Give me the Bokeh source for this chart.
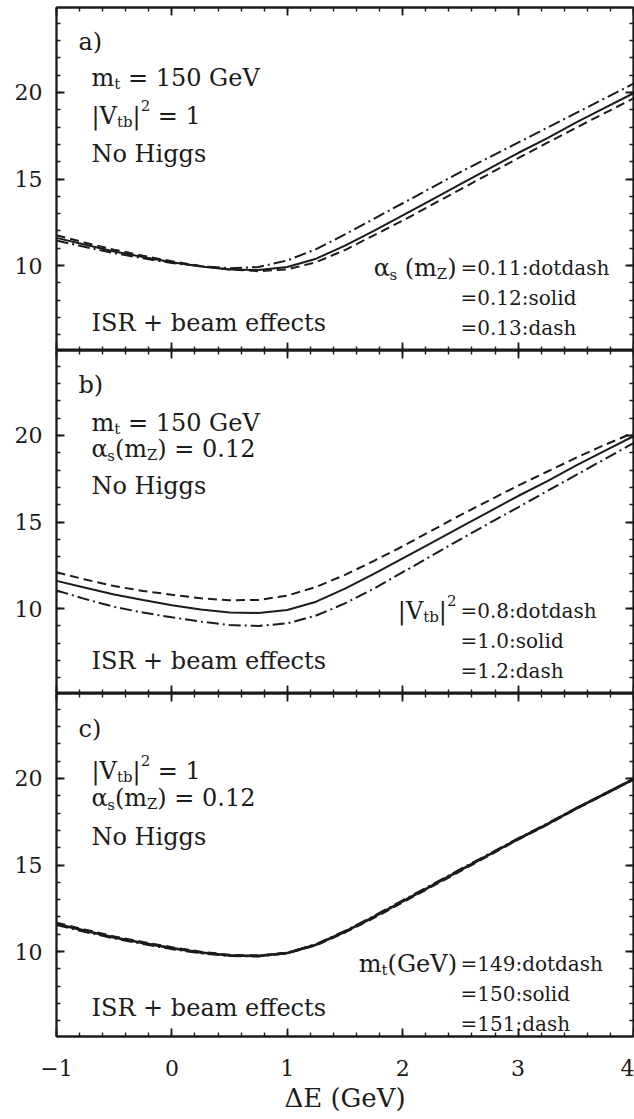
from bokeh.plotting import figure
from bokeh.models import (Range1d, LinearAxis, SingleIntervalTicker, Label,
                          CustomLabelingPolicy)
from bokeh.layouts import column
from bokeh.embed import file_html
from bokeh.resources import INLINE

# Energy offset from the nominal threshold, GeV
delta_e = [-1.0, -0.75, -0.5, -0.25, 0.0, 0.25, 0.5, 0.75, 1.0, 1.25, 1.5,
           1.75, 2.0, 2.25, 2.5, 2.75, 3.0, 3.25, 3.5, 3.75, 4.0]

# Reference setting: m_t = 150 GeV, |V_tb|^2 = 1, alpha_s(m_Z) = 0.12
central = [11.6, 11.2, 10.82, 10.5, 10.2, 9.95, 9.78, 9.75, 9.92, 10.4, 11.15,
           12.0, 12.9, 13.8, 14.7, 15.6, 16.5, 17.35, 18.25, 19.1, 19.95]

# a) alpha_s(m_Z) variations
alpha_011 = [11.45, 11.07, 10.72, 10.42, 10.15, 9.97, 9.85, 9.92, 10.3, 10.95, 11.8,
             12.7, 13.6, 14.5, 15.4, 16.25, 17.1, 17.95, 18.8, 19.65, 20.5]
alpha_013 = [11.75, 11.32, 10.92, 10.57, 10.25, 9.98, 9.78, 9.68, 9.78, 10.2, 10.9,
             11.75, 12.6, 13.5, 14.4, 15.3, 16.2, 17.08, 17.95, 18.8, 19.65]

# b) |V_tb|^2 variations
vtb_08 = [11.05, 10.55, 10.1, 9.77, 9.5, 9.25, 9.05, 9.0, 9.15, 9.6, 10.3,
          11.15, 12.1, 13.05, 14.0, 14.93, 15.85, 16.78, 17.7, 18.63, 19.55]
vtb_12 = [12.1, 11.68, 11.3, 11.02, 10.8, 10.6, 10.48, 10.5, 10.75, 11.25, 11.95,
          12.75, 13.6, 14.5, 15.4, 16.25, 17.1, 17.9, 18.7, 19.45, 20.15]

# c) top-mass variations
mt_149 = [11.55, 11.15, 10.78, 10.46, 10.16, 9.92, 9.76, 9.74, 9.92, 10.42, 11.18,
          12.04, 12.94, 13.84, 14.74, 15.63, 16.52, 17.37, 18.26, 19.1, 19.94]
mt_151 = [11.65, 11.25, 10.86, 10.54, 10.24, 9.98, 9.8, 9.76, 9.92, 10.38, 11.12,
          11.96, 12.86, 13.76, 14.66, 15.57, 16.48, 17.33, 18.24, 19.1, 19.96]

x_label_fix = {-1: "\u22121"}

FONT = "DejaVu Serif"
INK = "#1b1b1b"
X0, X1 = -1.0, 4.0
Y0, Y1 = 5.1, 24.9
FRAME_W = 577
FRAME_H = 343
PX_X = FRAME_W / (X1 - X0)
PX_Y = FRAME_H / (Y1 - Y0)

DOTDASH = "12 4 2 4"
DASH = "9 5"

# approximate advance widths (em) for DejaVu Serif
W = {' ': 0.318, '=': 0.838, '+': 0.838, '(': 0.390, ')': 0.390, '.': 0.318,
     ':': 0.337, '|': 0.337, 'a': 0.596, 'b': 0.640, 'c': 0.563, 'd': 0.640,
     'e': 0.592, 'f': 0.370, 'g': 0.640, 'h': 0.644, 'i': 0.320, 'l': 0.320,
     'm': 0.948, 'n': 0.644, 'o': 0.602, 's': 0.513, 't': 0.402, 'G': 0.778,
     'H': 0.872, 'I': 0.425, 'N': 0.872, 'R': 0.771, 'S': 0.687, 'V': 0.722,
     'Z': 0.685, 'E': 0.730, '\u03b1': 0.654}
for d in "0123456789":
    W[d] = 0.636


def text_width(s, size):
    return sum(W.get(ch, 0.6) for ch in s) * size


def rich(p, rx, ry, pieces, align="left"):
    """Place a run of text pieces (text, size, rise) starting at frame pixel (rx, ry)."""
    total = sum(text_width(t, s) for t, s, _ in pieces)
    x = X0 + rx / PX_X
    y = Y1 - ry / PX_Y
    off = -total if align == "right" else 0.0
    for t, s, rise in pieces:
        lead = len(t) - len(t.lstrip(" "))
        off += text_width(" " * lead, s)
        body = t.lstrip(" ")
        p.add_layout(Label(x=x, y=y, text=body, x_offset=off, y_offset=rise,
                           text_font=FONT, text_font_size=f"{s}px",
                           text_color=INK, text_align="left",
                           text_baseline="alphabetic"))
        off += text_width(body, s)


def axis(p, loc, dim, labels):
    tk = SingleIntervalTicker(interval=1 if dim == 0 else 5, num_minor_ticks=5)
    a = LinearAxis(ticker=tk, major_tick_in=8, major_tick_out=0,
                   minor_tick_in=4, minor_tick_out=0,
                   axis_line_color=INK, axis_line_width=1.8,
                   major_tick_line_color=INK, major_tick_line_width=1.8,
                   minor_tick_line_color=INK, minor_tick_line_width=1.4)
    if labels:
        a.major_label_text_font = FONT
        a.major_label_text_font_size = "22px"
        a.major_label_text_color = INK
        a.major_label_standoff = 14 if dim == 1 else 23
        if dim == 0:
            a.major_label_overrides = x_label_fix
    else:
        a.major_label_text_font_size = "0px"
        a.major_label_standoff = 0
        a.major_label_policy = CustomLabelingPolicy(code="return []")
    p.add_layout(a, loc)
    return a


def panel(height, top, bottom, xlabels):
    p = figure(width=634, height=height, x_range=Range1d(X0, X1),
               y_range=Range1d(Y0, Y1), output_backend="svg",
               toolbar_location=None, x_axis_location=None, y_axis_location=None,
               min_border_left=56, min_border_right=1,
               min_border_top=top, min_border_bottom=bottom)
    p.xgrid.visible = False
    p.ygrid.visible = False
    p.outline_line_color = INK
    p.outline_line_width = 1.8
    axis(p, "left", 1, True)
    axis(p, "right", 1, False)
    axis(p, "above", 0, False)
    ax = axis(p, "below", 0, xlabels)
    if xlabels:
        ax.axis_label = "\u0394E (GeV)"
        ax.axis_label_text_font = FONT
        ax.axis_label_text_font_size = "26px"
        ax.axis_label_text_font_style = "normal"
        ax.axis_label_text_color = INK
        ax.axis_label_standoff = 4
    return p


def curves(p, dotdash, solid, dash, width=2.0):
    p.line(delta_e, dotdash, line_color=INK, line_width=width, line_dash=DOTDASH)
    p.line(delta_e, solid, line_color=INK, line_width=width)
    p.line(delta_e, dash, line_color=INK, line_width=width, line_dash=DASH)


BIG, SUB, VAL = 24, 15, 20
LX = 35

# ---- panel a
pa = panel(350, 7, 0, False)
curves(pa, alpha_011, central, alpha_013)
rich(pa, 22, 34, [("a)", BIG, 0)])
rich(pa, LX, 70, [("m", BIG, 0), ("t", SUB, -6), (" = 150 GeV", BIG, 0)])
rich(pa, LX, 108, [("|V", BIG, 0), ("tb", SUB, -6), ("|", BIG, 0), ("2", SUB, 10), (" = 1", BIG, 0)])
rich(pa, LX, 146, [("No Higgs", BIG, 0)])
rich(pa, LX, 315, [("ISR + beam effects", BIG, 0)])
rich(pa, 400, 260, [("\u03b1", BIG, 0), ("s", SUB, -7), (" (m", BIG, 0), ("Z", SUB, -6), (")", BIG, 0)], align="right")
rich(pa, 404, 260, [("=0.11:dotdash", VAL, 0)])
rich(pa, 404, 290, [("=0.12:solid", VAL, 0)])
rich(pa, 404, 320, [("=0.13:dash", VAL, 0)])

# ---- panel b
pb = panel(343, 0, 0, False)
curves(pb, vtb_08, central, vtb_12)
rich(pb, 22, 34, [("b)", BIG, 0)])
rich(pb, LX, 72, [("m", BIG, 0), ("t", SUB, -6), (" = 150 GeV", BIG, 0)])
rich(pb, LX, 98, [("\u03b1", BIG, 0), ("s", SUB, -7), ("(m", BIG, 0), ("Z", SUB, -6), (") = 0.12", BIG, 0)])
rich(pb, LX, 135, [("No Higgs", BIG, 0)])
rich(pb, LX, 310, [("ISR + beam effects", BIG, 0)])
rich(pb, 400, 260, [("|V", BIG, 0), ("tb", SUB, -6), ("|", BIG, 0), ("2", SUB, 10)], align="right")
rich(pb, 404, 260, [("=0.8:dotdash", VAL, 0)])
rich(pb, 404, 290, [("=1.0:solid", VAL, 0)])
rich(pb, 404, 320, [("=1.2:dash", VAL, 0)])

# ---- panel c
pc = panel(426, 0, 83, True)
curves(pc, mt_149, central, mt_151, width=2.6)
rich(pc, 22, 35, [("c)", BIG, 0)])
rich(pc, LX, 77, [("|V", BIG, 0), ("tb", SUB, -6), ("|", BIG, 0), ("2", SUB, 10), (" = 1", BIG, 0)])
rich(pc, LX, 104, [("\u03b1", BIG, 0), ("s", SUB, -7), ("(m", BIG, 0), ("Z", SUB, -6), (") = 0.12", BIG, 0)])
rich(pc, LX, 143, [("No Higgs", BIG, 0)])
rich(pc, LX, 314, [("ISR + beam effects", BIG, 0)])
rich(pc, 400, 270, [("m", BIG, 0), ("t", SUB, -6), ("(GeV)", BIG, 0)], align="right")
rich(pc, 404, 270, [("=149:dotdash", VAL, 0)])
rich(pc, 404, 300, [("=150:solid", VAL, 0)])
rich(pc, 404, 330, [("=151:dash", VAL, 0)])

layout = column(pa, pb, pc, spacing=0)
open("out.html", "w").write(file_html(layout, INLINE))
